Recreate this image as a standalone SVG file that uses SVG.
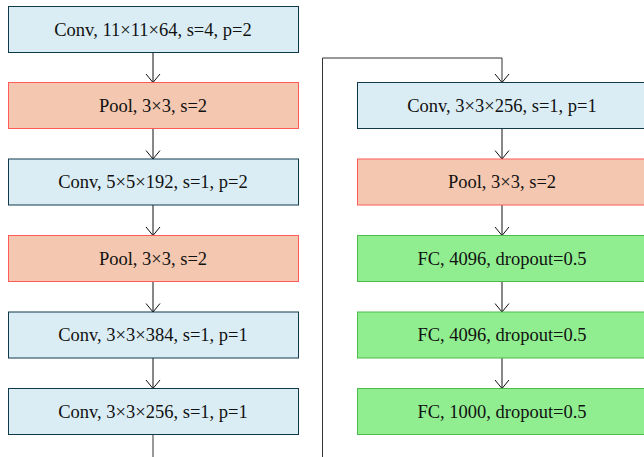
<svg xmlns="http://www.w3.org/2000/svg" width="644" height="457" viewBox="0 0 644 457">
<style>
.conv{fill:#dbedf4;stroke:#10394a;stroke-width:1}
.pool{fill:#f4c7b0;stroke:#ff5a5a;stroke-width:1}
.fc{fill:#90ee90;stroke:#4cbb4c;stroke-width:1}
text{font-family:"Liberation Serif","Times New Roman",serif;font-size:18.5px;fill:#111;text-anchor:middle;dominant-baseline:central}
.edge{fill:none;stroke:#111;stroke-width:1;marker-end:url(#arr)}
</style>
<defs>
<marker id="arr" viewBox="0 0 10 16" refX="9.5" refY="8" markerWidth="10" markerHeight="16" markerUnits="userSpaceOnUse" orient="auto">
<path d="M1,1 L9.5,8 L1,15" fill="none" stroke="#111" stroke-width="1"/>
</marker>
</defs>
<rect width="644" height="457" fill="#fff"/>
<g id="connectors">
<path class="edge" d="M153,52V82.5"/>
<path class="edge" d="M153,128.5V159"/>
<path class="edge" d="M153,205V235.5"/>
<path class="edge" d="M153,281.5V312"/>
<path class="edge" d="M153,358V388.5"/>
<path class="edge" d="M153,434.5V470H322.5V58H502V82.5" style="stroke:#333"/>
<path class="edge" d="M502,128.5V159"/>
<path class="edge" d="M502,205V235.5"/>
<path class="edge" d="M502,281.5V312"/>
<path class="edge" d="M502,358V388.5"/>
</g>
<g id="n1"><rect class="conv" x="8.5" y="6.5" width="290" height="46"/><text x="153" y="29.5">Conv, 11×11×64, s=4, p=2</text></g>
<g id="n2"><rect class="pool" x="8.5" y="82.5" width="290" height="46"/><text x="153" y="105.5">Pool, 3×3, s=2</text></g>
<g id="n3"><rect class="conv" x="8.5" y="159" width="290" height="46"/><text x="153" y="182">Conv, 5×5×192, s=1, p=2</text></g>
<g id="n4"><rect class="pool" x="8.5" y="235.5" width="290" height="46"/><text x="153" y="258.5">Pool, 3×3, s=2</text></g>
<g id="n5"><rect class="conv" x="8.5" y="312" width="290" height="46"/><text x="153" y="335">Conv, 3×3×384, s=1, p=1</text></g>
<g id="n6"><rect class="conv" x="8.5" y="388.5" width="290" height="46"/><text x="153" y="411.5">Conv, 3×3×256, s=1, p=1</text></g>
<g id="n7"><rect class="conv" x="357.5" y="82.5" width="290" height="46"/><text x="502" y="105.5">Conv, 3×3×256, s=1, p=1</text></g>
<g id="n8"><rect class="pool" x="357.5" y="159" width="290" height="46"/><text x="502" y="182">Pool, 3×3, s=2</text></g>
<g id="n9"><rect class="fc" x="357.5" y="235.5" width="290" height="46"/><text x="502" y="258.5">FC, 4096, dropout=0.5</text></g>
<g id="n10"><rect class="fc" x="357.5" y="312" width="290" height="46"/><text x="502" y="335">FC, 4096, dropout=0.5</text></g>
<g id="n11"><rect class="fc" x="357.5" y="388.5" width="290" height="46"/><text x="502" y="411.5">FC, 1000, dropout=0.5</text></g>
</svg>
